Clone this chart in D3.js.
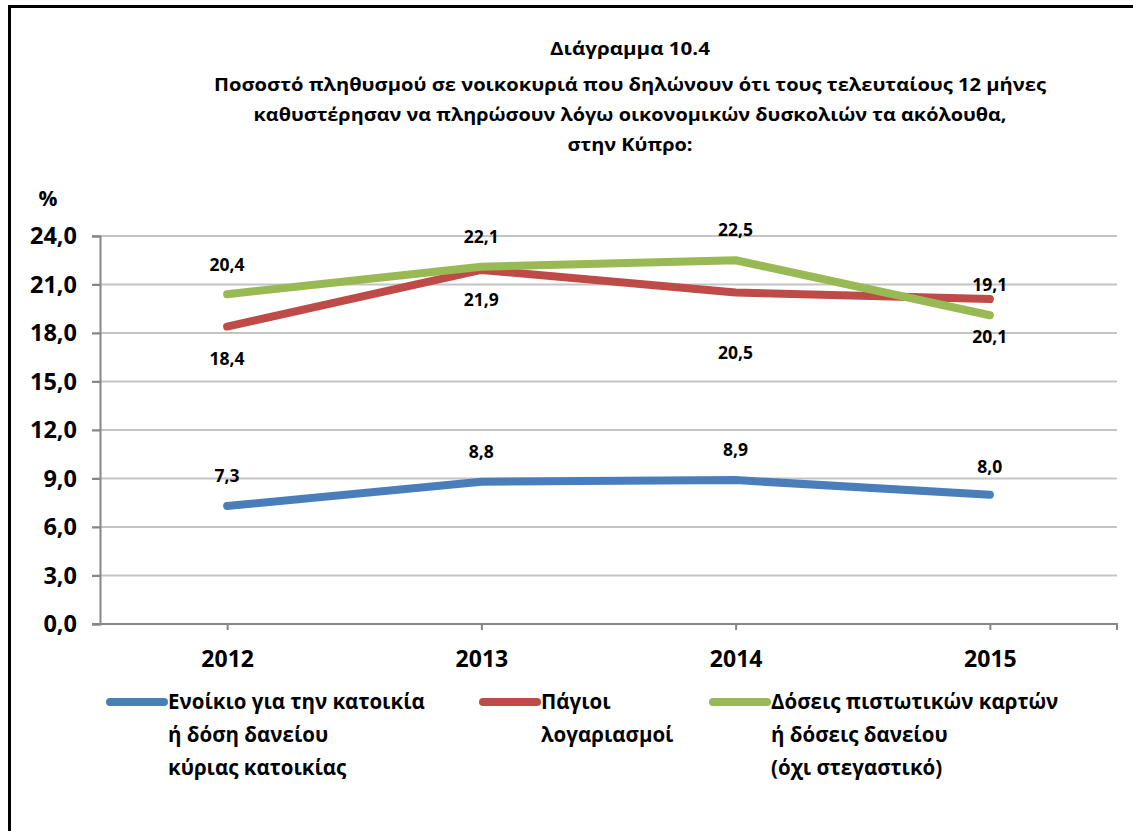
<!DOCTYPE html>
<html lang="el">
<head>
<meta charset="utf-8">
<title>Διάγραμμα 10.4</title>
<script src="https://d3js.org/d3.v7.min.js"></script>
<style>
  body { margin: 0; background: #fff; }
  text { font-family: "Open Sans", "Noto Sans", sans-serif; font-weight: bold; fill: #000; }
</style>
</head>
<body>
<script>
// data
var years = ["2012", "2013", "2014", "2015"];
var rent = [7.3, 8.8, 8.9, 8.0];
var bills = [18.4, 21.9, 20.5, 20.1];
var cards = [20.4, 22.1, 22.5, 19.1];
var seriesNames = [
    ["Ενοίκιο για την κατοικία", "ή δόση δανείου", "κύριας κατοικίας"],
    ["Πάγιοι", "λογαριασμοί"],
    ["Δόσεις πιστωτικών  καρτών", "ή δόσεις δανείου", "(όχι στεγαστικό)"]
];
var yTicks = [0, 3, 6, 9, 12, 15, 18, 21, 24];
var titleLines = [
    "Διάγραμμα 10.4",
    "Ποσοστό πληθυσμού σε νοικοκυριά που  δηλώνουν ότι τους  τελευταίους 12 μήνες",
    "καθυστέρησαν να πληρώσουν λόγω οικονομικών δυσκολιών τα ακόλουθα,",
    "στην Κύπρο:"
];

// layout
var width = 1133, height = 831;
var colors = ["#4a7ebb", "#be4b48", "#98b954"];
var labelDy = [
    [-30, -30, -30, -28],
    [32, 30, 60, 38],
    [-29, -30, -30, -30]
];

var svg = d3.select("body").append("svg")
    .attr("width", width)
    .attr("height", height);

// outer frame (runs off the right/bottom of the picture)
svg.append("rect")
    .attr("x", 9.5).attr("y", 6.5)
    .attr("width", 2000).attr("height", 2000)
    .attr("fill", "none")
    .attr("stroke", "#000")
    .attr("stroke-width", 3);

// title
var titleY = [55, 91, 121, 151];
var titleW = [160, 832, 753, 125];
titleLines.forEach(function (t, i) {
    svg.append("text")
        .attr("x", 630)
        .attr("y", titleY[i])
        .attr("text-anchor", "middle")
        .attr("font-size", 18.5)
        .attr("textLength", titleW[i])
        .attr("lengthAdjust", "spacingAndGlyphs")
        .text(t);
});

var x = d3.scalePoint()
    .domain(years)
    .range([100, 1117])
    .padding(0.5);

var y = d3.scaleLinear()
    .domain([0, 24])
    .range([624, 236]);

var fmt = function (v) { return d3.format(".1f")(v).replace(".", ","); };

// gridlines
svg.append("g")
    .selectAll("line")
    .data(yTicks.filter(function (d) { return d > 0; }))
    .enter().append("line")
    .attr("x1", 92).attr("x2", 1117)
    .attr("y1", function (d) { return y(d); })
    .attr("y2", function (d) { return y(d); })
    .attr("stroke", "#c4c4c4")
    .attr("stroke-width", 2);

// y axis
var yAxis = svg.append("g")
    .attr("transform", "translate(100,0)")
    .call(d3.axisLeft(y).tickValues(yTicks).tickSize(8).tickPadding(15).tickFormat(fmt));
yAxis.select(".domain").attr("stroke", "#868686").attr("stroke-width", 2);
yAxis.selectAll(".tick line").attr("stroke", "#868686").attr("stroke-width", 2);
yAxis.selectAll(".tick text")
    .attr("font-family", "'Open Sans', sans-serif")
    .attr("font-weight", "bold")
    .attr("font-size", 23.5)
    .attr("fill", "#000");

svg.append("text")
    .attr("x", 48).attr("y", 206)
    .attr("text-anchor", "middle")
    .attr("font-size", 21)
    .text("%");

// x axis
var xAxis = svg.append("g")
    .attr("transform", "translate(0,624)")
    .call(d3.axisBottom(x).tickSize(6).tickPadding(21).tickSizeOuter(0));
xAxis.select(".domain")
    .attr("d", "M92,0H1117V6")
    .attr("stroke", "#868686").attr("stroke-width", 2);
xAxis.selectAll(".tick line").attr("stroke", "#868686").attr("stroke-width", 2);
xAxis.selectAll(".tick text")
    .attr("font-family", "'Open Sans', sans-serif")
    .attr("font-weight", "bold")
    .attr("font-size", 23)
    .attr("fill", "#000");

// lines
var line = d3.line()
    .x(function (d, i) { return x(years[i]); })
    .y(function (d) { return y(d); });

var allSeries = [rent, bills, cards];
allSeries.forEach(function (s, k) {
    svg.append("path")
        .datum(s)
        .attr("d", line)
        .attr("fill", "none")
        .attr("stroke", colors[k])
        .attr("stroke-width", 8)
        .attr("stroke-linecap", "round")
        .attr("stroke-linejoin", "round");
});

// data labels
allSeries.forEach(function (s, k) {
    svg.append("g")
        .selectAll("text")
        .data(s)
        .enter().append("text")
        .attr("x", function (d, i) { return x(years[i]); })
        .attr("y", function (d, i) { return y(d) + labelDy[k][i]; })
        .attr("dy", "0.35em")
        .attr("text-anchor", "middle")
        .attr("font-size", 17.5)
        .text(fmt);
});

// legend
var legendX = [107, 480, 710];
seriesNames.forEach(function (lines, k) {
    var g = svg.append("g").attr("transform", "translate(" + legendX[k] + ",702)");
    g.append("line")
        .attr("x1", 3).attr("x2", 57)
        .attr("stroke", colors[k])
        .attr("stroke-width", 8)
        .attr("stroke-linecap", "round");
    lines.forEach(function (t, j) {
        g.append("text")
            .attr("x", 61)
            .attr("y", j * 33)
            .attr("dy", "0.35em")
            .attr("font-size", 20.5)
            .text(t);
    });
});
</script>
</body>
</html>
